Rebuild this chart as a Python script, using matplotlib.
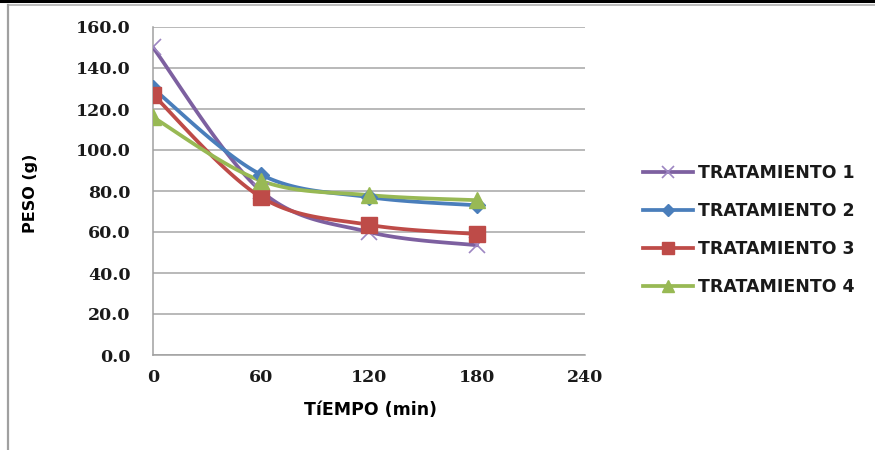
import numpy as np
import matplotlib
matplotlib.use("Agg")
import matplotlib.pyplot as plt
from matplotlib.lines import Line2D

# Weight loss over time for four treatments
tiempo = [0, 60, 120, 180]
tratamiento_1 = [150.0, 80.0, 60.0, 53.5]
tratamiento_2 = [130.0, 88.0, 77.0, 73.0]
tratamiento_3 = [127.0, 77.0, 63.5, 59.0]
tratamiento_4 = [116.0, 85.0, 78.0, 75.5]
series_names = ["TRATAMIENTO 1", "TRATAMIENTO 2", "TRATAMIENTO 3", "TRATAMIENTO 4"]
x_ticks = [0, 60, 120, 180, 240]
y_ticks = [0, 20, 40, 60, 80, 100, 120, 140, 160]


def smooth_curve(xs, ys, steps=40):
    """Catmull-Rom style Bezier smoothing through the given points."""
    p = np.column_stack([xs, ys]).astype(float)
    n = len(p)
    out = [p[0]]
    t = np.linspace(0, 1, steps)[1:]
    for i in range(n - 1):
        p0 = p[i - 1] if i > 0 else p[i]
        p1 = p[i]
        p2 = p[i + 1]
        p3 = p[i + 2] if i + 2 < n else p[i + 1]
        c1 = p1 + (p2 - p0) / 6.0
        c2 = p2 - (p3 - p1) / 6.0
        seg = ((1 - t) ** 3)[:, None] * p1 + (3 * (1 - t) ** 2 * t)[:, None] * c1 \
            + (3 * (1 - t) * t ** 2)[:, None] * c2 + (t ** 3)[:, None] * p2
        out.extend(seg)
    out = np.array(out)
    return out[:, 0], out[:, 1]


fig = plt.figure(figsize=(8.75, 4.5), dpi=100)
ax = fig.add_axes([153 / 875, 95 / 450, 432 / 875, 328 / 450])

styles = [
    dict(color="#7D60A0", marker="x", mec="#9D86C2", ms=11, mew=1.2, mfc="none"),
    dict(color="#4A7EBB", marker="D", mec="#4A7EBB", ms=8, mew=1, mfc="#4A7EBB"),
    dict(color="#BE4B48", marker="s", mec="#BE4B48", ms=11, mew=1, mfc="#BE4B48"),
    dict(color="#98B954", marker="^", mec="#98B954", ms=11.5, mew=1, mfc="#98B954"),
]
data = [tratamiento_1, tratamiento_2, tratamiento_3, tratamiento_4]

handles = []
for vals, st, name in zip(data, styles, series_names):
    sx, sy = smooth_curve(tiempo, vals)
    ax.plot(sx, sy, color=st["color"], lw=2.7, solid_capstyle="round", zorder=3)
    ax.plot(tiempo, vals, ls="none", marker=st["marker"], ms=st["ms"],
            mfc=st["mfc"], mec=st["mec"], mew=st["mew"], zorder=4)
    handles.append(Line2D([], [], color=st["color"], lw=2.7, marker=st["marker"],
                          ms=st["ms"] * 0.8, mfc=st["mfc"], mec=st["mec"], mew=st["mew"]))

ax.set_xlim(0, 240)
ax.set_ylim(0, 160)
ax.set_xticks(x_ticks)
ax.set_yticks(y_ticks)
ax.set_xticklabels([str(v) for v in x_ticks])
ax.set_yticklabels([f"{v:.1f}" for v in y_ticks])
ax.grid(axis="y", color="#A6A6A6", lw=1.1)
ax.set_axisbelow(True)
for side in ["top", "right"]:
    ax.spines[side].set_visible(False)
for side in ["left", "bottom"]:
    ax.spines[side].set_color("#A0A0A0")
    ax.spines[side].set_linewidth(1.1)
ax.tick_params(axis="both", length=0)
ax.tick_params(axis="y", pad=16)
ax.tick_params(axis="x", pad=10)
for lbl in ax.get_xticklabels() + ax.get_yticklabels():
    lbl.set_fontfamily("DejaVu Serif")
    lbl.set_fontweight("bold")
    lbl.set_fontsize(12.5)
    lbl.set_color("#1A1A1A")

fig.text(370 / 875, 1 - 410 / 450, "TíEMPO (min)", ha="center", va="center",
         fontsize=12.5, fontweight="bold", family="DejaVu Sans")
fig.text(30 / 875, 1 - 193 / 450, "PESO (g)", ha="center", va="center", rotation=90,
         fontsize=11.5, fontweight="bold", family="DejaVu Sans")

leg = fig.legend(handles, series_names, loc="upper left",
                 bbox_to_anchor=(627 / 875, 1 - 148 / 450), frameon=False,
                 handlelength=2.9, handletextpad=0.3, labelspacing=1.16,
                 prop=dict(family="DejaVu Sans", size=12.5, weight="bold"))
for txt in leg.get_texts():
    txt.set_color("#1A1A1A")

# chart border lines
fig.add_artist(Line2D([0, 1], [1 - 1 / 450, 1 - 1 / 450], color="black", lw=2.2,
                      transform=fig.transFigure))
fig.add_artist(Line2D([8 / 875, 1], [1 - 4.5 / 450, 1 - 4.5 / 450], color="#B0B0B0", lw=1.2,
                      transform=fig.transFigure))
fig.add_artist(Line2D([8 / 875, 8 / 875], [0, 1 - 4.5 / 450], color="#A0A0A0", lw=1.6,
                      transform=fig.transFigure))

fig.savefig("out.png", dpi=100)
